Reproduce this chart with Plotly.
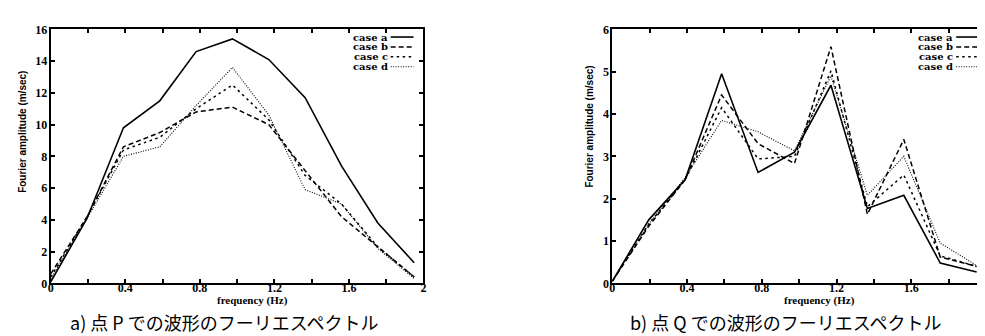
import plotly.graph_objects as go

# ---------------- data ----------------
freq = [0, 0.195, 0.39, 0.585, 0.78, 0.975, 1.17, 1.365, 1.56, 1.755, 1.95]
case_names = ["case a", "case b", "case c", "case d"]

p_case_a = [0.1, 4.1, 9.8, 11.5, 14.6, 15.4, 14.1, 11.7, 7.4, 3.8, 1.3]
p_case_b = [0.6, 4.2, 8.6, 9.5, 10.8, 11.1, 10.0, 7.1, 4.2, 2.3, 0.4]
p_case_c = [0.4, 4.2, 8.4, 9.2, 11.0, 12.5, 10.3, 6.8, 5.0, 2.3, 0.4]
p_case_d = [0.3, 4.1, 8.0, 8.6, 11.2, 13.6, 10.6, 5.9, 5.0, 2.2, 0.3]

q_case_a = [0.05, 1.5, 2.45, 4.95, 2.62, 3.1, 4.68, 1.77, 2.08, 0.48, 0.27]
q_case_b = [0.05, 1.35, 2.45, 4.45, 3.3, 2.83, 5.59, 1.63, 3.4, 0.62, 0.4]
q_case_c = [0.05, 1.4, 2.45, 4.15, 2.94, 3.0, 5.02, 1.81, 2.56, 0.65, 0.4]
q_case_d = [0.05, 1.4, 2.5, 3.85, 3.58, 3.13, 4.9, 2.08, 3.0, 0.95, 0.42]

x_tickvals = [0, 0.2, 0.4, 0.6, 0.8, 1.0, 1.2, 1.4, 1.6, 1.8, 2.0]
x_ticktext = ["0", "", "0.4", "", "0.8", "", "1.2", "", "1.6", "", "2"]
p_yticks = [0, 2, 4, 6, 8, 10, 12, 14, 16]
q_yticks = [0, 1, 2, 3, 4, 5, 6]

x_title = "frequency (Hz)"
y_title = "Fourier amplitude (m/sec)"
caption_a = "a) 点 P での波形のフーリエスペクトル"
caption_b = "b) 点 Q での波形のフーリエスペクトル"

# ---------------- styles ----------------
W, H = 985, 336
styles = [
    dict(dash="solid", width=1.6),
    dict(dash="5px,3px", width=1.5),
    dict(dash="2.5px,3.5px", width=1.5),
    dict(dash="1px,1.5px", width=1.1),
]

def px_x(x):
    return x / W

def px_y(y):
    return 1 - y / H

fig = go.Figure()

p_series = [p_case_a, p_case_b, p_case_c, p_case_d]
q_series = [q_case_a, q_case_b, q_case_c, q_case_d]

for name, ys, st in zip(case_names, p_series, styles):
    fig.add_trace(go.Scatter(x=freq, y=ys, mode="lines", name=name,
                             line=dict(color="black", **st),
                             xaxis="x", yaxis="y", showlegend=False))
for name, ys, st in zip(case_names, q_series, styles):
    fig.add_trace(go.Scatter(x=freq, y=ys, mode="lines", name=name,
                             line=dict(color="black", **st),
                             xaxis="x2", yaxis="y2", showlegend=False))

tick_font = dict(family="Liberation Serif", size=12, color="black", weight="bold")

ax_common = dict(showline=True, linecolor="black", linewidth=2, mirror="allticks",
                 ticks="inside", ticklen=4, tickwidth=1.5, tickcolor="black",
                 showgrid=False, zeroline=False, tickfont=tick_font)

y_dom = [px_y(280), px_y(15)]
fig.update_layout(
    width=W, height=H,
    margin=dict(l=0, r=0, t=0, b=0),
    paper_bgcolor="white", plot_bgcolor="white",
    xaxis=dict(domain=[px_x(40), px_x(415)], range=[0, 2], tickvals=x_tickvals,
               ticktext=x_ticktext, anchor="y", ticklabelstandoff=-8, **ax_common),
    yaxis=dict(domain=y_dom, range=[0, 16], tickvals=p_yticks, anchor="x",
               ticklabelstandoff=-1, **ax_common),
    xaxis2=dict(domain=[px_x(605), px_x(981)], range=[0, 2], tickvals=x_tickvals,
                ticktext=x_ticktext, anchor="y2", ticklabelstandoff=-8, **ax_common),
    yaxis2=dict(domain=y_dom, range=[0, 6], tickvals=q_yticks, anchor="x2",
                ticklabelstandoff=-1, **ax_common),
)

annotations = []
# axis titles
for cx, cy in [(243, 298), (813, 298)]:
    annotations.append(dict(text=x_title, xref="paper", yref="paper",
                            x=px_x(cx), y=px_y(cy), showarrow=False,
                            xanchor="center", yanchor="middle",
                            font=dict(family="Liberation Serif", size=11, color="black", weight="bold")))
for cx, cy in [(12, 122), (582, 116)]:
    annotations.append(dict(text=y_title, xref="paper", yref="paper",
                            x=px_x(cx), y=px_y(cy), showarrow=False, textangle=-90,
                            xanchor="center", yanchor="middle",
                            font=dict(family="Liberation Sans", size=10, color="black", weight="bold")))
# captions
for cx, txt in [(214, caption_a), (779, caption_b)]:
    annotations.append(dict(text=txt, xref="paper", yref="paper",
                            x=px_x(cx), y=px_y(320), showarrow=False,
                            xanchor="center", yanchor="middle",
                            font=dict(family="Noto Sans CJK JP", size=18, color="black")))

# custom legends (text then sample, right-aligned)
shapes = []
legend_rows = [23, 33.3, 43.6, 54]
for text_right, s0, s1 in [(380, 382, 405), (949, 951, 973)]:
    for name, st, ry in zip(case_names, styles, legend_rows):
        annotations.append(dict(text=name, xref="paper", yref="paper",
                                x=px_x(text_right), y=px_y(ry), showarrow=False,
                                xanchor="right", yanchor="middle", borderpad=0,
                                font=dict(family="DejaVu Serif", size=10, color="black", weight="bold")))
        shapes.append(dict(type="line", xref="paper", yref="paper",
                           x0=px_x(s0), x1=px_x(s1), y0=px_y(ry), y1=px_y(ry),
                           line=dict(color="black", **st)))

fig.update_layout(annotations=annotations, shapes=shapes)
fig.write_html("out.html")
